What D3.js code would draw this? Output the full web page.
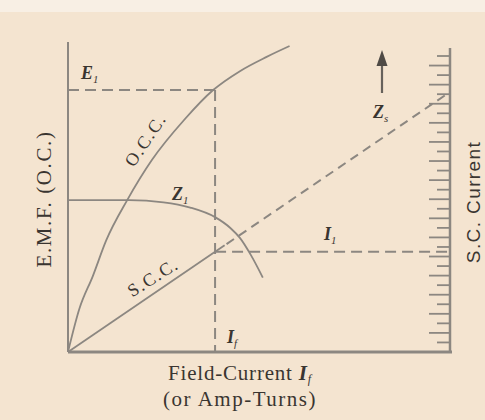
<!DOCTYPE html>
<html>
<head>
<meta charset="utf-8">
<script src="https://cdn.jsdelivr.net/npm/d3@7"></script>
<style>
  html, body { margin: 0; padding: 0; background: #f4e4d0; }
  svg { display: block; }
</style>
</head>
<body>
<svg id="chart" width="485" height="420"></svg>
<script>
// Open-circuit characteristic: field current vs. generated e.m.f.
const occField = [0, 3, 6.5, 10, 15.5, 22, 30.5, 38, 45, 52, 58];
const occEmf   = [0, 14, 24.5, 36, 49, 62, 75, 84.5, 90.6, 95.2, 98.7];

// Synchronous impedance curve Z1 against field current
const zField = [0, 16, 25, 32, 38.5, 42.5, 45, 48, 51];
const zValue = [49, 49, 48.3, 46.6, 43.5, 40, 36.8, 31, 24];

// Short-circuit characteristic (straight line through the origin)
const sccField = [0, 41];
const sccExtField = [41.5, 99.2];

// Operating point
const fieldIf = 38.5;   // I_f
const emfE1 = 84.5;     // E_1
const scI1 = 32.3;      // I_1
const sccSlope = scI1 / fieldIf;

// S.C. current scale ticks (unlabelled)
const scTicks = d3.range(1, 32);

const svg = d3.select("#chart");
const ink = "#8c8781";
const textInk = "#3a3530";

const x = d3.scaleLinear().domain([0, 100]).range([68, 450]);
const y = d3.scaleLinear().domain([0, 100]).range([352, 42]);
const yRight = d3.scaleLinear().domain([0, 31]).range([352, 56]);

// faint lighter band along the top edge
svg.append("rect").attr("x", 0).attr("y", 0).attr("width", 485).attr("height", 12)
  .attr("fill", "#f8efe4");

// axes frame
svg.append("line").attr("x1", x(0)).attr("x2", x(0)).attr("y1", y(0)).attr("y2", y(100))
  .attr("stroke", ink).attr("stroke-width", 2);
svg.append("line").attr("x1", x(0)).attr("x2", x(100) + 2).attr("y1", y(0)).attr("y2", y(0))
  .attr("stroke", ink).attr("stroke-width", 3);
svg.append("line").attr("x1", x(100)).attr("x2", x(100)).attr("y1", y(0)).attr("y2", y(98.1))
  .attr("stroke", ink).attr("stroke-width", 2.5);

// right-hand S.C. current scale, ticks pointing inward
svg.append("g").selectAll("line").data(scTicks).join("line")
  .attr("x1", x(100))
  .attr("x2", d => x(100) - (d % 2 === 0 ? 21 : 13))
  .attr("y1", d => yRight(d)).attr("y2", d => yRight(d))
  .attr("stroke", ink).attr("stroke-width", 1.8);

const curve = d3.line().x(d => x(d[0])).y(d => y(d[1])).curve(d3.curveMonotoneX);

// O.C.C.
svg.append("path").datum(occField.map((f, i) => [f, occEmf[i]]))
  .attr("d", curve).attr("fill", "none").attr("stroke", ink).attr("stroke-width", 1.8);

// Z1 curve
svg.append("path").datum(zField.map((f, i) => [f, zValue[i]]))
  .attr("d", curve).attr("fill", "none").attr("stroke", ink).attr("stroke-width", 1.8);

// S.C.C. solid part and dashed continuation
svg.append("line")
  .attr("x1", x(sccField[0])).attr("y1", y(sccField[0] * sccSlope))
  .attr("x2", x(sccField[1])).attr("y2", y(sccField[1] * sccSlope))
  .attr("stroke", ink).attr("stroke-width", 1.8);
svg.append("line")
  .attr("x1", x(sccExtField[0])).attr("y1", y(sccExtField[0] * sccSlope))
  .attr("x2", x(sccExtField[1])).attr("y2", y(sccExtField[1] * sccSlope))
  .attr("stroke", ink).attr("stroke-width", 2).attr("stroke-dasharray", "9,6");

// construction lines for E1, I_f and I1
const dashed = (x1, y1, x2, y2) => svg.append("line")
  .attr("x1", x1).attr("y1", y1).attr("x2", x2).attr("y2", y2)
  .attr("stroke", ink).attr("stroke-width", 2).attr("stroke-dasharray", "11,6");
dashed(x(0), y(emfE1), x(fieldIf), y(emfE1));
dashed(x(fieldIf), y(emfE1), x(fieldIf), y(0));
dashed(x(fieldIf), y(scI1), x(100), y(scI1));

// arrow showing Z_s rising
const ax = 382;
svg.append("line").attr("x1", ax).attr("x2", ax).attr("y1", 93).attr("y2", 62)
  .attr("stroke", "#66615b").attr("stroke-width", 2.2);
svg.append("path").attr("d", `M${ax},50 L${ax - 5.5},66 L${ax + 5.5},66 Z`).attr("fill", "#4f4a45");

// labels
const serif = "'Liberation Serif', 'DejaVu Serif', serif";
const sans = "'Liberation Sans', Arial, sans-serif";

function subLabel(px, py, main, sub, size) {
  const t = svg.append("text").attr("x", px).attr("y", py)
    .attr("font-family", serif).attr("font-size", size).attr("font-style", "italic")
    .attr("font-weight", "bold").attr("fill", textInk);
  t.append("tspan").text(main);
  t.append("tspan").attr("dy", 4).attr("font-size", size * 0.6).attr("font-weight", "normal").text(sub);
  return t;
}
subLabel(x(0) + 13, y(emfE1) - 11, "E", "1", 18);
subLabel(172, 200, "Z", "1", 18);
subLabel(324, 240, "I", "1", 18);
subLabel(373, 118, "Z", "s", 18);
subLabel(x(fieldIf) + 12, 343, "I", "f", 18);

svg.append("text").attr("transform", "translate(147,141) rotate(-56)")
  .attr("text-anchor", "middle").attr("dominant-baseline", "middle")
  .attr("font-family", serif).attr("font-size", 18).attr("letter-spacing", 1.5)
  .attr("fill", textInk).text("O.C.C.");

svg.append("text").attr("transform", "translate(154,279) rotate(-32)")
  .attr("text-anchor", "middle").attr("dominant-baseline", "middle")
  .attr("font-family", serif).attr("font-size", 18).attr("letter-spacing", 1.5)
  .attr("fill", textInk).text("S.C.C.");

svg.append("text").attr("transform", "translate(51,199) rotate(-90)")
  .attr("text-anchor", "middle")
  .attr("font-family", serif).attr("font-size", 21).attr("letter-spacing", 1.6)
  .attr("fill", textInk).text("E.M.F. (O.C.)");

svg.append("text").attr("transform", "translate(480,202) rotate(-90)")
  .attr("text-anchor", "middle")
  .attr("font-family", sans).attr("font-size", 19).attr("letter-spacing", 1.4)
  .attr("fill", textInk).text("S.C. Current");

const xl = svg.append("text").attr("x", 240).attr("y", 380).attr("text-anchor", "middle")
  .attr("font-family", serif).attr("font-size", 21).attr("letter-spacing", 0.8).attr("fill", textInk);
xl.append("tspan").text("Field-Current ");
xl.append("tspan").attr("font-style", "italic").attr("font-weight", "bold").text("I");
xl.append("tspan").attr("dy", 3).attr("font-size", 12).attr("font-style", "italic").text("f");

svg.append("text").attr("x", 240).attr("y", 406).attr("text-anchor", "middle")
  .attr("font-family", serif).attr("font-size", 21).attr("letter-spacing", 1.5)
  .attr("fill", textInk).text("(or Amp-Turns)");
</script>
</body>
</html>
